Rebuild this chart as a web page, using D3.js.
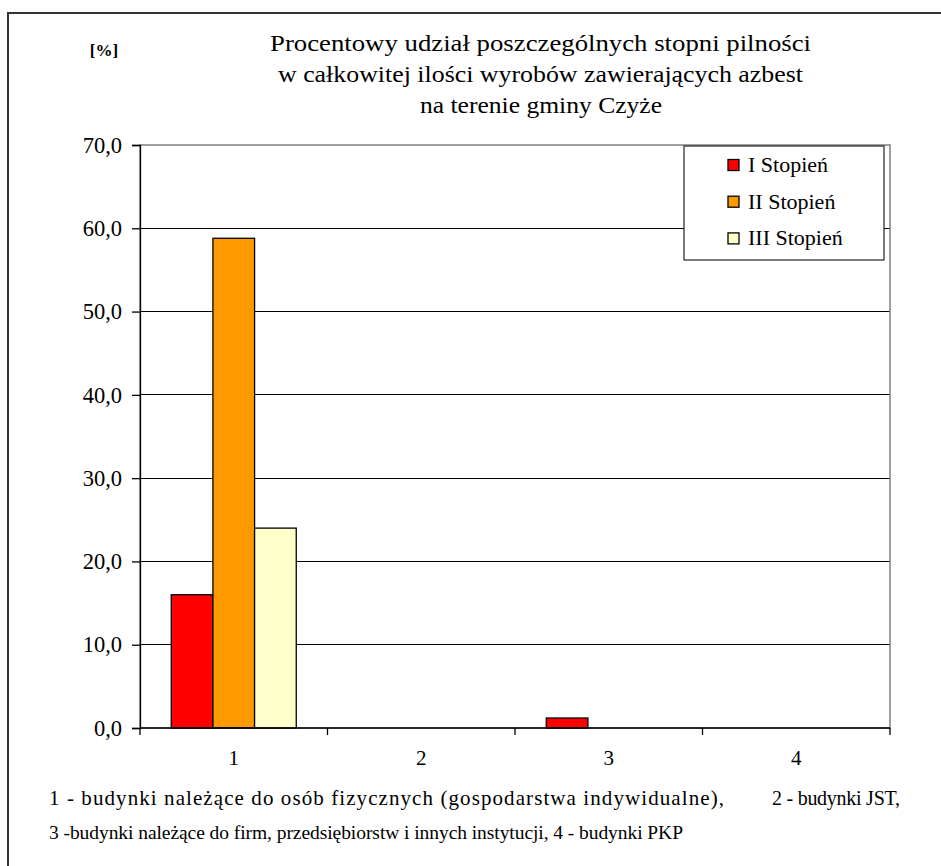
<!DOCTYPE html>
<html>
<head>
<meta charset="utf-8">
<script src="https://cdn.jsdelivr.net/npm/d3@7"></script>
<style>
  html, body { margin: 0; padding: 0; background: #fff; }
  svg { display: block; }
</style>
</head>
<body>
<svg id="chart" width="941" height="866" font-family="Liberation Serif, serif"></svg>
<script>
// ---- data ----
const categories = ["1", "2", "3", "4"];
const seriesNames = ["I Stopień", "II Stopień", "III Stopień"];
const seriesColors = ["#ff0000", "#ff9900", "#ffffcc"];
const valuesI   = [16.0, 0, 1.2, 0];
const valuesII  = [58.8, 0, 0, 0];
const valuesIII = [24.0, 0, 0, 0];
const yTicks = [0, 10, 20, 30, 40, 50, 60, 70];
const titleLines = [
  "Procentowy udział poszczególnych stopni pilności",
  "w całkowitej ilości wyrobów zawierających azbest",
  "na terenie gminy Czyże"
];
const footnotePieces = [
  "1 - budynki należące do osób fizycznych (gospodarstwa indywidualne),",
  "2 - budynki JST,",
  "3 -budynki należące do firm, przedsiębiorstw i innych instytucji, 4 - budynki PKP"
];
const unitLabel = "[%]";

const seriesValues = [valuesI, valuesII, valuesIII];
const FONT = "'Liberation Serif', 'DejaVu Serif', serif";

// ---- layout ----
const svg = d3.select("#chart");
const plot = { left: 140, right: 890, top: 145, bottom: 728 };

// outer frame
svg.append("rect")
  .attr("x", 8).attr("y", 13)
  .attr("width", 960).attr("height", 900)
  .attr("fill", "#fff").attr("stroke", "#333").attr("stroke-width", 2);

const x0 = d3.scaleBand().domain(categories).range([plot.left, plot.right]).paddingInner(0).paddingOuter(0);
const groupFrac = 3 / 4.5;
const x1 = d3.scaleBand().domain(d3.range(seriesNames.length))
  .range([0, x0.bandwidth() * groupFrac]);
const groupOffset = x0.bandwidth() * (1 - groupFrac) / 2;
const y = d3.scaleLinear().domain([0, 70]).range([plot.bottom, plot.top]);

// gridlines
svg.append("g").selectAll("line")
  .data(yTicks.filter(t => t > 0 && t < 70))
  .join("line")
  .attr("x1", plot.left).attr("x2", plot.right)
  .attr("y1", d => y(d)).attr("y2", d => y(d))
  .attr("stroke", "#000").attr("stroke-width", 1)
  .attr("shape-rendering", "crispEdges");

// plot-area border
svg.append("rect")
  .attr("x", plot.left).attr("y", y(70))
  .attr("width", plot.right - plot.left).attr("height", plot.bottom - y(70))
  .attr("fill", "none").attr("stroke", "#808080").attr("stroke-width", 1.5);

// bars
const rows = categories.map((c, i) => ({ c, vals: seriesValues.map(s => s[i]) }));
const groups = svg.append("g").selectAll("g")
  .data(rows).join("g")
  .attr("transform", d => `translate(${x0(d.c) + groupOffset},0)`);
groups.selectAll("rect")
  .data(d => d.vals.map((v, k) => ({ v, k })).filter(e => e.v > 0))
  .join("rect")
  .attr("x", e => x1(e.k))
  .attr("width", x1.bandwidth())
  .attr("y", e => y(e.v))
  .attr("height", e => y(0) - y(e.v))
  .attr("fill", e => seriesColors[e.k])
  .attr("stroke", "#000").attr("stroke-width", 1.3);

// y axis
const yAxis = d3.axisLeft(y).tickValues(yTicks).tickSize(8).tickPadding(10)
  .tickFormat(d => d3.format(".1f")(d).replace(".", ","));
const gy = svg.append("g").attr("transform", `translate(${plot.left},0)`).call(yAxis)
  .attr("font-family", null).attr("font-size", null);
gy.select(".domain").attr("stroke", "#000").attr("stroke-width", 1.3);
gy.selectAll(".tick line").attr("stroke", "#000").attr("stroke-width", 1.3);
gy.selectAll(".tick text").style("font-family", FONT).style("font-size", "22.5px").attr("fill", "#000");

// x axis
const gx = svg.append("g").attr("transform", `translate(0,${plot.bottom})`);
gx.append("line").attr("x1", plot.left).attr("x2", plot.right)
  .attr("y1", 0).attr("y2", 0).attr("stroke", "#000").attr("stroke-width", 1.5);
const boundaries = categories.map(c => x0(c)).concat([plot.right]);
gx.selectAll("line.tk").data(boundaries).join("line").attr("class", "tk")
  .attr("x1", d => d).attr("x2", d => d).attr("y1", 0).attr("y2", 7)
  .attr("stroke", "#000").attr("stroke-width", 1.3);
gx.selectAll("text").data(categories).join("text")
  .attr("x", d => x0(d) + x0.bandwidth() / 2)
  .attr("y", 37)
  .attr("text-anchor", "middle")
  .style("font-family", FONT).style("font-size", "21px")
  .text(d => d);

// title
const titleSpans = [[270, 811], [278, 803], [420, 662]];
svg.append("g").selectAll("text").data(titleLines).join("text")
  .attr("x", (d, i) => titleSpans[i][0]).attr("y", (d, i) => 51 + i * 31)
  .attr("textLength", (d, i) => titleSpans[i][1] - titleSpans[i][0])
  .attr("lengthAdjust", "spacingAndGlyphs")
  .style("font-family", FONT).style("font-size", "23.5px")
  .text(d => d);

// unit label
svg.append("text").attr("x", 104).attr("y", 56)
  .attr("text-anchor", "middle")
  .style("font-family", FONT).style("font-size", "17px").style("font-weight", "bold")
  .text(unitLabel);

// legend
const lg = svg.append("g");
lg.append("rect").attr("x", 684).attr("y", 146).attr("width", 200).attr("height", 114)
  .attr("fill", "#fff").attr("stroke", "#333").attr("stroke-width", 1.3);
const items = lg.selectAll("g.item").data(seriesNames).join("g").attr("class", "item")
  .attr("transform", (d, i) => `translate(728,${165 + i * 36.7})`);
items.append("rect").attr("x", 0).attr("y", -5.5).attr("width", 11).attr("height", 11)
  .attr("fill", (d, i) => seriesColors[i]).attr("stroke", "#000").attr("stroke-width", 1.3);
items.append("text").attr("x", 20).attr("y", 7)
  .style("font-family", FONT).style("font-size", "22px").text(d => d);

// footnotes
const footLayout = [
  { x0: 49, x1: 724, y: 805, fs: 21 },
  { x0: 772, x1: 900, y: 805, fs: 20 },
  { x0: 49, x1: 683, y: 839, fs: 19.5 }
];
svg.append("g").selectAll("text").data(footnotePieces).join("text")
  .attr("x", (d, i) => footLayout[i].x0).attr("y", (d, i) => footLayout[i].y)
  .attr("textLength", (d, i) => footLayout[i].x1 - footLayout[i].x0)
  .attr("lengthAdjust", "spacing")
  .style("font-family", FONT).style("font-size", (d, i) => footLayout[i].fs + "px")
  .text(d => d);
</script>
</body>
</html>
